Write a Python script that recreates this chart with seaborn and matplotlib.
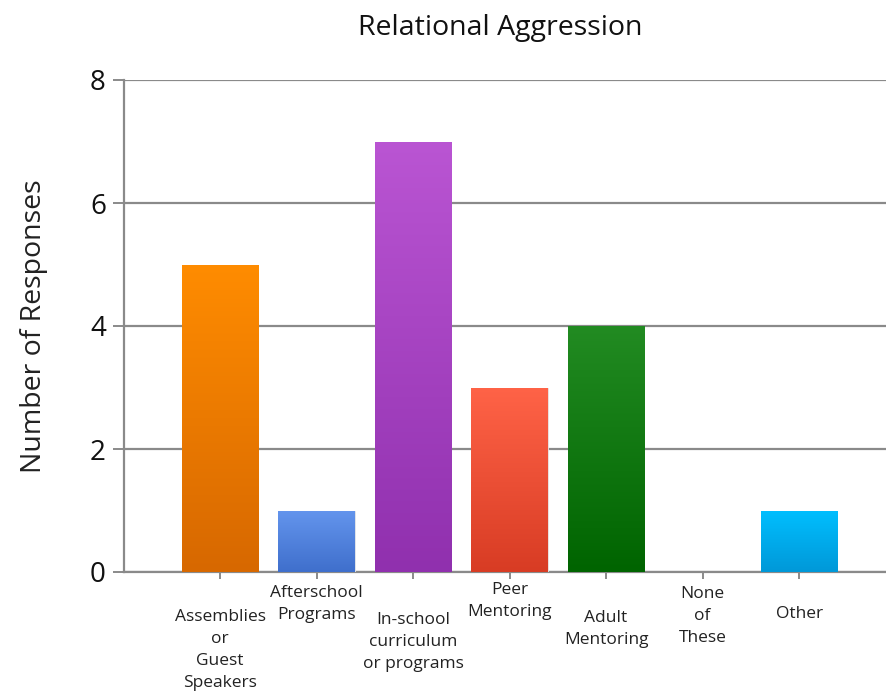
"""
Relational Aggression: number of responses per program type (bar chart with gradient fills).
"""

import matplotlib
matplotlib.use("Agg")
import matplotlib.pyplot as plt
import matplotlib.colors as mcolors
import numpy as np
import pandas as pd
import seaborn as sns

# data
categories = ["Assemblies\nor\nGuest\nSpeakers", "Afterschool\nPrograms",
              "In-school\ncurriculum\nor programs", "Peer\nMentoring",
              "Adult\nMentoring", "None\nof\nThese", "Other"]
responses = [5, 1, 7, 3, 4, 0, 1]
y_ticks = [0, 2, 4, 6, 8]

# gradient colours per bar (top, bottom)
top_colors = ["#ff8c00", "#6495ed", "#ba55d3", "#ff6347", "#228b22", "#00bfff", "#00bfff"]
bottom_colors = ["#d76800", "#3f6fcc", "#9030ae", "#d83c24", "#006400", "#0098d8", "#0098d8"]
# vertical offsets (pixels below the axis) of each x label
label_offsets = [37, 13, 40, 10, 38, 14, 34]

sns.set_theme(style="white")
plt.rcParams['font.family'] = ['Open Sans', 'DejaVu Sans']

df = pd.DataFrame({"category": categories, "responses": responses})

fig = plt.figure(figsize=(8.86, 6.92), dpi=100)
ax = fig.add_axes([124 / 886, 1 - 572 / 692, 1 - 124 / 886, (572 - 80) / 692])

sns.barplot(data=df, x="category", y="responses", hue="category",
            palette=top_colors, width=0.79, legend=False, ax=ax, zorder=3)

# gradient fill clipped to each bar
for patch, c_top, c_bot in zip(ax.patches, top_colors, bottom_colors):
    h = patch.get_height()
    if h <= 0:
        patch.set_linewidth(0)
        continue
    x0 = patch.get_x()
    w = patch.get_width()
    cmap = mcolors.LinearSegmentedColormap.from_list("g", [c_bot, c_top])
    grad = np.linspace(0, 1, 256).reshape(-1, 1)
    im = ax.imshow(grad, cmap=cmap, origin="lower", aspect="auto",
                   extent=[x0, x0 + w, 0, h], zorder=4)
    im.set_clip_path(patch)
    patch.set_edgecolor("#e8e8e8")
    patch.set_linewidth(0.6)

ax.set_xlim(-0.995, 6.9)
ax.set_ylim(0, 8)
ax.set_yticks(y_ticks)
ax.set_yticklabels([str(t) for t in y_ticks], fontsize=20, color="#111111")
ax.yaxis.grid(True, color="#8a8a8a", linewidth=1.6, zorder=0)
ax.set_axisbelow(True)

for s in ["top", "right"]:
    ax.spines[s].set_visible(False)
for s in ["left", "bottom"]:
    ax.spines[s].set_color("#8a8a8a")
    ax.spines[s].set_linewidth(1.6)

ax.tick_params(axis="y", which="major", left=True, length=8, width=1.4,
               color="#8a8a8a", pad=5)
ax.tick_params(axis="x", bottom=True, length=5, width=1.4, color="#8a8a8a",
               labelbottom=False)
ax.set_xlabel("")
ax.set_ylabel("Number of Responses", fontsize=20.5, color="#222222", labelpad=30)

# staggered multi-line category labels
for i, (lab, off) in enumerate(zip(categories, label_offsets)):
    ax.annotate(lab, xy=(i, 0), xycoords=ax.get_xaxis_transform(),
                xytext=(0, -off * 72 / 100), textcoords="offset points",
                ha="center", va="top", multialignment="center",
                fontsize=12.5, color="#222222", linespacing=1.5,
                annotation_clip=False)

fig.text(500 / 886, 1 - 28 / 692, "Relational Aggression", ha="center", va="center",
         fontsize=20.5, color="#111111")

fig.savefig("out.png", dpi=100)
